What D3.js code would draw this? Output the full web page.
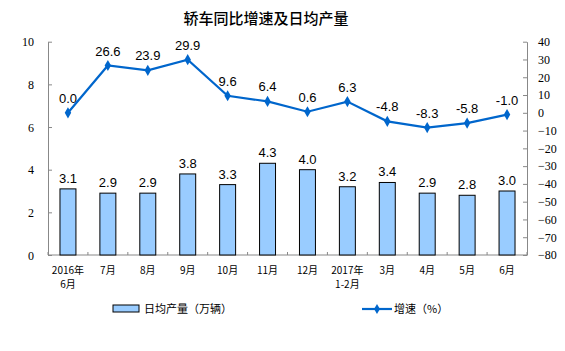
<!DOCTYPE html>
<html><head><meta charset="utf-8">
<script src="https://cdn.jsdelivr.net/npm/d3@7"></script>
<style>body{margin:0;background:#fff}svg{display:block}</style>
</head><body>
<svg id="c" width="565" height="351"></svg>
<script>
const title = "轿车同比增速及日均产量";
const categories = ["2016年\n6月","7月","8月","9月","10月","11月","12月","2017年\n1-2月","3月","4月","5月","6月"];
const output = [3.1,2.9,2.9,3.8,3.3,4.3,4.0,3.2,3.4,2.9,2.8,3.0];
const growth = [0.0,26.6,23.9,29.9,9.6,6.4,0.6,6.3,-4.8,-8.3,-5.8,-1.0];
const leftTicks = [0,2,4,6,8,10];
const rightTicks = [40,30,20,10,0,-10,-20,-30,-40,-50,-60,-70,-80];
const barLegend = "日均产量（万辆）";
const lineLegend = "增速（%）";

const svg = d3.select("#c");
const L = 48, R = 527, T = 41.7, B = 255;
const x = d3.scaleBand().domain(categories).range([L, R]);
const yL = d3.scaleLinear().domain([0,10]).range([B, T]);
const yR = d3.scaleLinear().domain([-80,40]).range([B, T]);
const cjk = "'Noto Sans CJK SC', sans-serif";

svg.append("text").attr("x", 266).attr("y", 24).attr("text-anchor","middle")
  .attr("font-family", cjk).attr("font-size", 15).attr("font-weight", 500).attr("fill","#000").text(title);

// axes
const axL = svg.append("g").attr("transform",`translate(${L},0)`)
  .call(d3.axisLeft(yL).tickValues(leftTicks).tickSizeInner(-4).tickSizeOuter(0).tickPadding(14));
const axR = svg.append("g").attr("transform",`translate(${R},0)`)
  .call(d3.axisRight(yR).tickValues(rightTicks).tickSizeInner(-4).tickSizeOuter(0).tickPadding(11));
[axL, axR].forEach(a => {
  a.select(".domain").attr("stroke","#888");
  a.selectAll(".tick line").attr("stroke","#888");
  a.selectAll(".tick text").attr("font-family","'Liberation Serif', serif").attr("font-size",12).attr("fill","#000");
});
axL.selectAll(".tick text").attr("dy","0.35em");

// x axis line and ticks at band boundaries
svg.append("line").attr("x1",L).attr("x2",R).attr("y1",B).attr("y2",B).attr("stroke","#888");
const bounds = d3.range(categories.length+1).map(i => L + i*x.step());
svg.selectAll(".xt").data(bounds).join("line").attr("x1",d=>d).attr("x2",d=>d)
  .attr("y1",B).attr("y2",B-3).attr("stroke","#888");

// bars
const bw = x.bandwidth()*0.4;
svg.selectAll(".bar").data(output).join("rect")
  .attr("x",(d,i)=>x(categories[i])+x.bandwidth()/2-bw/2)
  .attr("y",d=>yL(d)).attr("width",bw).attr("height",d=>B-yL(d))
  .attr("fill","#99ccff").attr("stroke","#000").attr("stroke-width",1);
svg.selectAll(".bl").data(output).join("text")
  .attr("x",(d,i)=>x(categories[i])+x.bandwidth()/2).attr("y",d=>yL(d)-6)
  .attr("text-anchor","middle").attr("font-family","'Liberation Sans', Arial, sans-serif").attr("font-size",13)
  .text(d=>d.toFixed(1));

// line
const cx = i => x(categories[i])+x.bandwidth()/2;
svg.append("path").datum(growth)
  .attr("d", d3.line().x((d,i)=>cx(i)).y(d=>yR(d)))
  .attr("fill","none").attr("stroke","#0066cc").attr("stroke-width",2.2);
svg.selectAll(".mk").data(growth).join("path")
  .attr("transform",(d,i)=>`translate(${cx(i)},${yR(d)})`)
  .attr("d", d3.symbol().type(d3.symbolDiamond).size(36)).attr("fill","#0066cc");
svg.selectAll(".ll").data(growth).join("text")
  .attr("x",(d,i)=>cx(i)).attr("y",d=>yR(d)-10)
  .attr("text-anchor","middle").attr("font-family","'Liberation Sans', Arial, sans-serif").attr("font-size",13)
  .text(d=>d.toFixed(1));

// category labels
categories.forEach((c,i) => {
  const lines = c.split("\n");
  lines.forEach((s,j) => {
    svg.append("text").attr("x",cx(i)).attr("y",274+j*14).attr("text-anchor","middle")
      .attr("font-family",cjk).attr("font-size",10).attr("fill","#000").text(s);
  });
});

// legend
svg.append("rect").attr("x",113).attr("y",305).attr("width",26).attr("height",7)
  .attr("fill","#99ccff").attr("stroke","#000");
svg.append("text").attr("x",144).attr("y",313).attr("font-family",cjk).attr("font-size",11).text(barLegend);
svg.append("line").attr("x1",362).attr("x2",392).attr("y1",309).attr("y2",309).attr("stroke","#0066cc").attr("stroke-width",2.2);
svg.append("path").attr("transform","translate(377,309)").attr("d",d3.symbol().type(d3.symbolDiamond).size(30)).attr("fill","#0066cc");
svg.append("text").attr("x",394).attr("y",313).attr("font-family",cjk).attr("font-size",11).text(lineLegend);
</script>
</body></html>
